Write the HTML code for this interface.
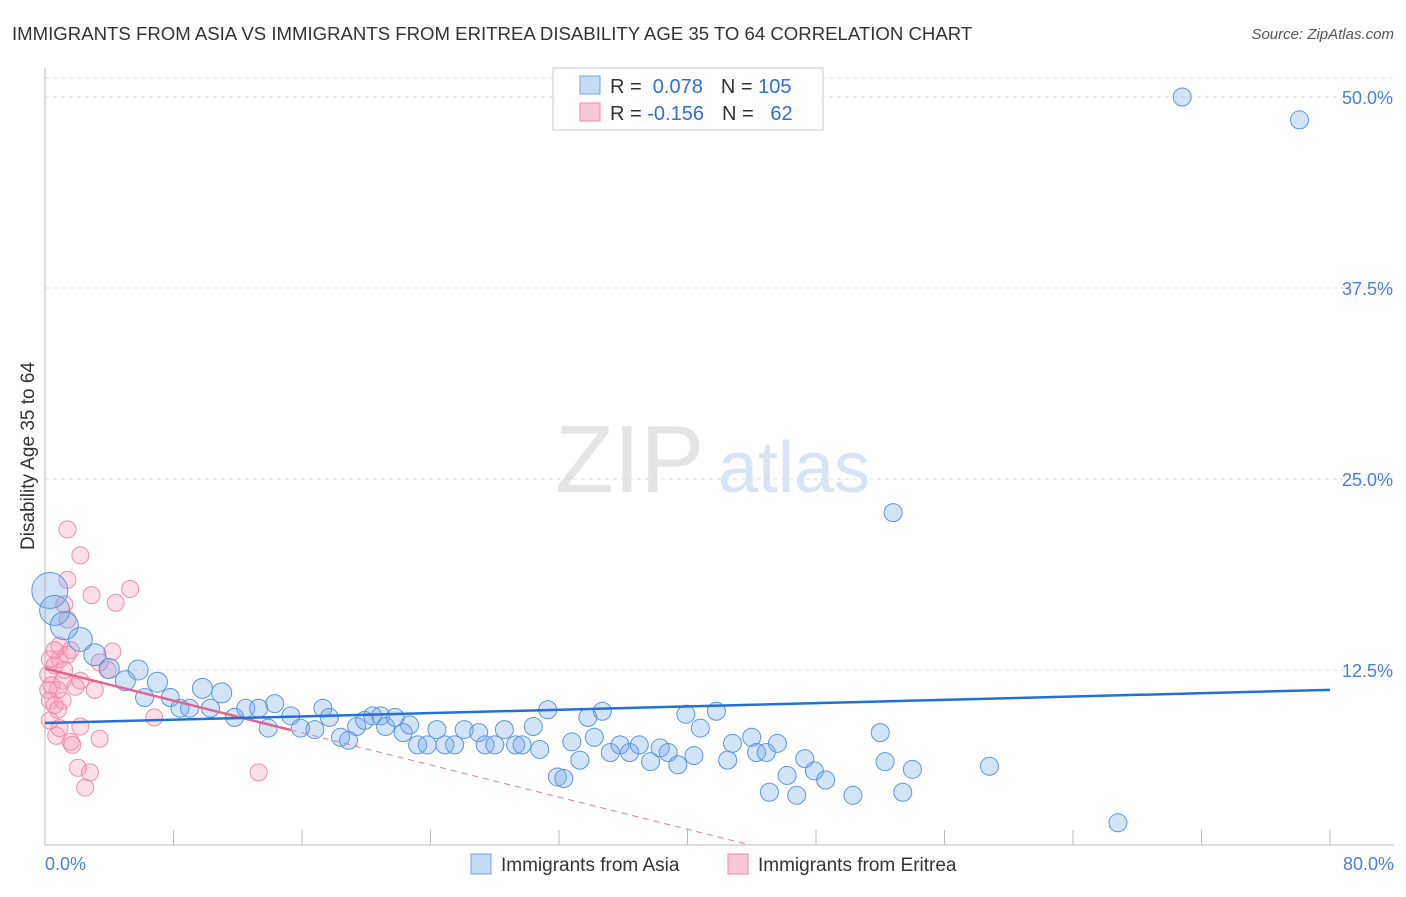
<!DOCTYPE html>
<html><head><meta charset="utf-8"><style>
body{margin:0;background:#fff;font-family:"Liberation Sans",sans-serif}
svg text{font-family:"Liberation Sans",sans-serif}
</style></head><body>
<svg width="1406" height="892">
<text x="12" y="40" font-size="18.6" fill="#333">IMMIGRANTS FROM ASIA VS IMMIGRANTS FROM ERITREA DISABILITY AGE 35 TO 64 CORRELATION CHART</text>
<text x="1394" y="39" font-size="15" fill="#555" font-style="italic" text-anchor="end">Source: ZipAtlas.com</text>
<text x="34" y="456" font-size="19" fill="#333" text-anchor="middle" transform="rotate(-90 34 456)">Disability Age 35 to 64</text>
<text x="555" y="492" font-size="96" fill="#e4e4e4" font-family="Liberation Serif">ZIP</text>
<text x="718" y="492" font-size="72" fill="#d6e4f5">atlas</text>
<g id="grid"></g><g id="axes"></g><g id="pts"></g><g id="lines"></g>
<g>
<rect x="553" y="68" width="270" height="62" fill="#fff" stroke="#ccc"/>
<rect x="580" y="76" width="20" height="18" fill="#c5dbf6" stroke="#6fa3e3"/>
<rect x="580" y="103" width="20" height="18" fill="#f9c9d7" stroke="#ee8aa8"/>
<text x="610" y="93" font-size="20" fill="#333">R = <tspan fill="#2f6fd6">&#160;0.078</tspan><tspan dx="18">N = </tspan><tspan fill="#2f6fd6">105</tspan></text>
<text x="610" y="120" font-size="20" fill="#333">R = <tspan fill="#2f6fd6">-0.156</tspan><tspan dx="18">N = </tspan><tspan fill="#2f6fd6">&#160;&#160;62</tspan></text>
</g>
<g>
<rect x="471" y="854" width="20" height="20" fill="#c5dbf6" stroke="#6fa3e3"/>
<text x="501" y="871" font-size="19" fill="#333">Immigrants from Asia</text>
<rect x="728" y="854" width="20" height="20" fill="#f9c9d7" stroke="#ee8aa8"/>
<text x="758" y="871" font-size="19" fill="#333">Immigrants from Eritrea</text>
</g>
</svg>
<script>
const yTicks=[12.5,25,37.5,50];
const yTickLabels=["12.5%","25.0%","37.5%","50.0%"];
const xTickLabels=["0.0%","80.0%"];
const asiaX=[0.3,0.6,1.2,2.2,3.1,4.0,5.0,5.8,6.2,7.0,7.8,8.4,9.8,9.0,10.3,11.0,11.8,12.5,13.3,14.3,13.9,15.3,15.9,16.8,17.3,17.7,18.4,18.9,19.4,19.9,20.4,20.9,21.2,21.8,22.3,22.7,23.2,23.8,24.4,24.9,25.5,26.1,27.0,27.4,28.0,28.6,29.3,29.7,30.4,30.8,31.3,31.9,32.3,32.8,33.3,33.8,34.2,34.7,35.2,35.8,36.4,37.0,37.7,38.3,38.8,39.4,39.9,40.4,40.8,41.8,42.5,42.8,44.0,44.3,44.9,45.1,45.6,46.2,46.8,47.3,47.9,48.6,50.3,52.0,52.3,52.8,53.4,54.0,58.8,66.8,70.8,78.1];
const asiaY=[17.7,16.4,15.4,14.5,13.5,12.6,11.8,12.5,10.7,11.7,10.7,10.0,11.3,10.0,10.0,11.0,9.4,10.0,10.0,10.3,8.7,9.5,8.7,8.6,10.0,9.4,8.1,7.9,8.8,9.2,9.5,9.5,8.8,9.4,8.4,8.9,7.6,7.6,8.6,7.6,7.6,8.6,8.4,7.6,7.6,8.6,7.6,7.6,8.8,7.3,9.9,5.5,5.4,7.8,6.6,9.4,8.1,9.8,7.1,7.6,7.1,7.6,6.5,7.4,7.1,6.3,9.6,6.9,8.7,9.8,6.6,7.7,8.1,7.1,7.1,4.5,7.7,5.6,4.3,6.7,5.9,5.3,4.3,8.4,6.5,22.8,4.5,6.0,6.2,2.5,50.0,48.5];
const asiaR=[18,15,14,12,11,10,10,10,9,10,9,9,10,9,9,10,9,9,9,9,9,9,9,9,9,9,9,9,9,9,9,9,9,9,9,9,9,9,9,9,9,9,9,9,9,9,9,9,9,9,9,9,9,9,9,9,9,9,9,9,9,9,9,9,9,9,9,9,9,9,9,9,9,9,9,9,9,9,9,9,9,9,9,9,9,9,9,9,9,9,9,9];
const eriX=[1.4,2.2,1.4,2.9,4.4,5.3,1.2,1.4,4.2,0.3,0.6,0.9,0.2,0.4,0.8,0.3,0.6,1.1,0.2,1.2,1.6,0.9,0.6,1.4,1.1,0.8,0.3,1.9,2.2,3.4,3.9,3.1,0.9,0.7,1.6,2.2,3.4,1.7,2.05,2.8,2.5,6.8,13.3];
const eriY=[21.7,20.0,18.4,17.4,16.9,17.8,16.8,15.8,13.7,13.2,12.8,13.2,12.2,11.5,11.2,10.5,10.2,10.5,11.2,12.5,13.8,14.1,13.8,13.5,11.8,9.9,9.2,11.4,11.8,13.0,12.5,11.2,8.7,8.2,7.8,8.8,8.0,7.6,6.1,5.8,4.8,9.4,5.8];
const asiaTrend=[9.03,11.2];
const eriTrend=[12.6,1.05];
const eriTrendEnd=43.9, eriSolidEnd=15.3;
const NS="http://www.w3.org/2000/svg";
const X0=45,X1=1330,Y0=861,YS=191/12.5;
const sx=v=>X0+v/80*(X1-X0), sy=v=>Y0-v*YS;
function mk(tag,attrs,parent){const e=document.createElementNS(NS,tag);for(const k in attrs)e.setAttribute(k,attrs[k]);document.getElementById(parent).appendChild(e);return e;}
yTicks.forEach((t,i)=>{
 const l=mk('line',{x1:45,x2:1394,y1:sy(t),y2:sy(t),stroke:'#ddd','stroke-dasharray':'4,4'},'grid');
 
 
 const tx=mk('text',{x:1393,y:sy(t)+7,'font-size':18,fill:'#4a7fd4','text-anchor':'end'},'grid');tx.textContent=yTickLabels[i];
 
 
});
const tl=mk('line',{x1:45,x2:1394,y1:78,y2:78,stroke:'#ddd','stroke-dasharray':'4,4'},'grid');


const ya=mk('line',{x1:45,x2:45,y1:68,y2:845,stroke:'#bbb'},'axes');


const xa=mk('line',{x1:45,x2:1394,y1:845,y2:845,stroke:'#bbb'},'axes');


for(let i=0;i<=10;i++){const t=mk('line',{x1:sx(i*8),x2:sx(i*8),y1:830,y2:845,stroke:'#bbb'},'axes');
 
 }
[[0,'start',45],[80,'end',1394]].forEach((a,i)=>{const t=mk('text',{x:a[2],y:870,'font-size':18,fill:'#4a7fd4','text-anchor':a[1]},'axes');t.textContent=xTickLabels[i];
 
 });
eriX.forEach((x,i)=>{const c=mk('circle',{cx:sx(x),cy:sy(eriY[i]),r:8.5,fill:'rgba(244,150,180,0.3)',stroke:'#f08eac','stroke-width':1},'pts');
 
 });
asiaX.forEach((x,i)=>{const c=mk('circle',{cx:sx(x),cy:sy(asiaY[i]),r:asiaR[i],fill:'rgba(110,165,235,0.3)',stroke:'#5b96e0','stroke-width':1},'pts');
 
 });
const ey=x=>eriTrend[0]+(eriTrend[1]-eriTrend[0])*x/eriTrendEnd;
const d=mk('line',{x1:sx(eriSolidEnd),y1:sy(ey(eriSolidEnd)),x2:sx(eriTrendEnd),y2:sy(eriTrend[1]),stroke:'#e8799b','stroke-width':1,'stroke-dasharray':'6,5'},'lines');


const s=mk('line',{x1:sx(0),y1:sy(eriTrend[0]),x2:sx(eriSolidEnd),y2:sy(ey(eriSolidEnd)),stroke:'#e0668e','stroke-width':2.5},'lines');


const b=mk('line',{x1:sx(0),y1:sy(asiaTrend[0]),x2:sx(80),y2:sy(asiaTrend[1]),stroke:'#2470d8','stroke-width':2.5},'lines');


</script>
</body></html>
